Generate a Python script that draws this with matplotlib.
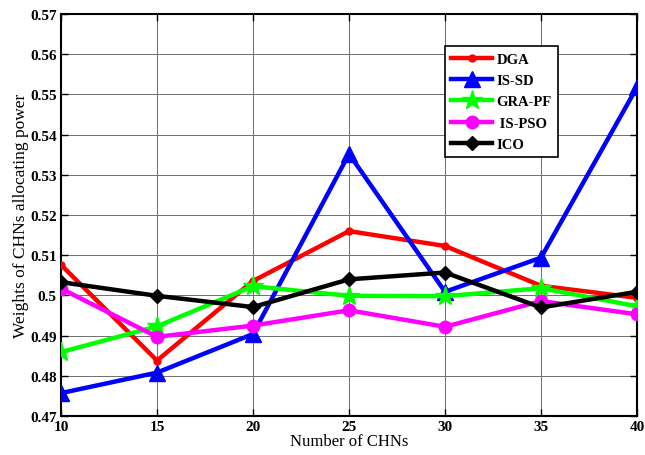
import matplotlib
matplotlib.use("Agg")
import matplotlib.pyplot as plt

x = [10, 15, 20, 25, 30, 35, 40]
dga = [0.5076, 0.4838, 0.5036, 0.5160, 0.5123, 0.5024, 0.4994]
is_sd = [0.4757, 0.4808, 0.4904, 0.5352, 0.5009, 0.5094, 0.5518]
gra_pf = [0.4859, 0.4923, 0.5023, 0.4999, 0.4998, 0.5018, 0.4973]
is_pso = [0.5017, 0.4897, 0.4925, 0.4963, 0.4922, 0.4986, 0.4953]
ico = [0.5033, 0.4999, 0.4971, 0.5040, 0.5057, 0.4970, 0.5009]

labels = ["DGA", "IS-SD", "GRA-PF", " IS-PSO", "ICO"]
xticks = [10, 15, 20, 25, 30, 35, 40]
yticks = [0.47, 0.48, 0.49, 0.5, 0.51, 0.52, 0.53, 0.54, 0.55, 0.56, 0.57]
ytick_labels = ["0.47", "0.48", "0.49", "0.5", "0.51", "0.52", "0.53", "0.54", "0.55", "0.56", "0.57"]

plt.rcParams['font.family'] = ['Liberation Serif', 'DejaVu Serif']

fig = plt.figure(figsize=(6.45, 4.56), dpi=100)
ax = fig.add_axes([0.0946, 0.0855, 0.8930, 0.8815])

lw = 3.2
ax.plot(x, dga, color='#ff0000', lw=lw, marker='o', ms=5, label=labels[0], zorder=3)
ax.plot(x, is_sd, color='#0000ff', lw=lw, marker='^', ms=11, label=labels[1], zorder=3)
ax.plot(x, gra_pf, color='#00ff00', lw=lw, marker='*', ms=15, label=labels[2], zorder=3)
ax.plot(x, is_pso, color='#ff00ff', lw=lw, marker='o', ms=9, label=labels[3], zorder=3)
ax.plot(x, ico, color='#000000', lw=lw, marker='D', ms=7, label=labels[4], zorder=3)

ax.set_xlim(10, 40)
ax.set_ylim(0.47, 0.57)
ax.set_xticks(xticks)
ax.set_yticks(yticks)
ax.set_yticklabels(ytick_labels)
ax.grid(True, color='#6e6e6e', lw=0.7)
ax.set_axisbelow(True)
ax.tick_params(direction='in', right=True, top=True, labelsize=11, length=5, width=1, pad=3)
for lab in ax.get_xticklabels() + ax.get_yticklabels():
    lab.set_fontweight('bold')
for s in ax.spines.values():
    s.set_linewidth(1.5)

ax.set_xlabel("Number of CHNs", fontsize=12, labelpad=0)
ax.set_ylabel("Weights of CHNs allocating power", fontsize=12.5)
ax.yaxis.set_label_coords(-0.055, 0.5)

leg = ax.legend(loc='upper left', bbox_to_anchor=(0.666, 0.92), prop={'weight': 'bold', 'size': 10.5},
                fancybox=False, edgecolor='black', framealpha=1, handlelength=2.8,
                borderpad=0.45, labelspacing=0.55, handletextpad=0.3, borderaxespad=0)
leg.get_frame().set_linewidth(1.2)

fig.savefig("out.png", dpi=100)
